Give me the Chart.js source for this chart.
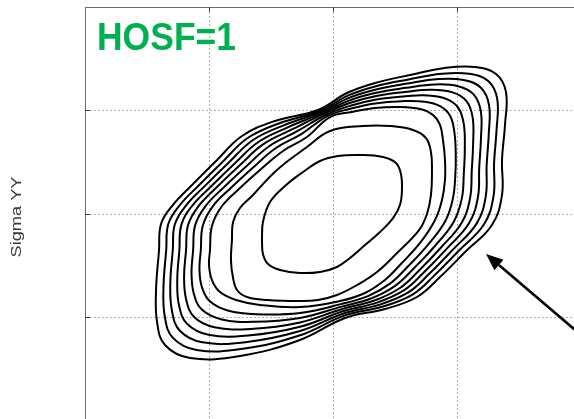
<!DOCTYPE html>
<html>
<head>
<meta charset="utf-8">
<script src="https://cdn.jsdelivr.net/npm/chart.js@4.4.1/dist/chart.umd.min.js"></script>
<style>
  html, body { margin: 0; padding: 0; overflow: hidden; background: #fff; width: 574px; height: 419px; }
  #wrap { position: relative; width: 581px; height: 421px; }
  canvas { display: block; }
</style>
</head>
<body>
<div id="wrap"><canvas id="plot" width="581" height="421"></canvas></div>
<script>
// Stress contour levels, innermost (level1) to outermost (level10), as [sigmaXX, sigmaYY] points
const level1 = [[1.427,1.749],[1.435,1.923],[1.492,2.116],[1.613,2.271],[1.758,2.406],[1.895,2.512],[2.040,2.560],[2.218,2.570],[2.403,2.551],[2.508,2.493],[2.548,2.386],[2.556,2.232],[2.540,2.087],[2.484,1.961],[2.379,1.826],[2.258,1.700],[2.137,1.575],[2.032,1.488],[1.895,1.440],[1.734,1.430],[1.573,1.459],[1.476,1.517],[1.435,1.614]];
const level2 = [[1.185,1.749],[1.194,1.923],[1.250,2.058],[1.347,2.174],[1.548,2.425],[1.790,2.647],[1.976,2.802],[2.242,2.850],[2.460,2.850],[2.645,2.812],[2.750,2.734],[2.790,2.599],[2.798,2.425],[2.790,2.184],[2.758,2.000],[2.694,1.845],[2.516,1.623],[2.355,1.440],[2.194,1.314],[2.032,1.217],[1.879,1.169],[1.734,1.159],[1.468,1.169],[1.306,1.198],[1.226,1.266],[1.194,1.382],[1.177,1.556]];
const level3 = [[1.008,1.652],[1.024,1.884],[1.105,2.077],[1.250,2.251],[1.411,2.425],[1.597,2.609],[1.790,2.744],[1.976,2.937],[2.153,2.986],[2.339,3.024],[2.540,3.034],[2.702,3.014],[2.806,2.957],[2.863,2.860],[2.887,2.715],[2.903,2.522],[2.903,2.329],[2.879,2.135],[2.823,1.942],[2.702,1.720],[2.540,1.507],[2.419,1.362],[2.258,1.237],[2.056,1.159],[1.734,1.101],[1.411,1.121],[1.218,1.169],[1.089,1.246],[1.024,1.362],[1.000,1.507]];
const level4 = [[0.934,1.652],[0.950,1.887],[1.032,2.077],[1.180,2.256],[1.349,2.442],[1.537,2.635],[1.744,2.772],[1.959,2.949],[2.146,3.019],[2.339,3.068],[2.555,3.090],[2.738,3.085],[2.867,3.040],[2.944,2.949],[2.978,2.799],[2.990,2.583],[2.986,2.364],[2.966,2.144],[2.906,1.933],[2.767,1.704],[2.598,1.486],[2.465,1.332],[2.287,1.209],[2.063,1.129],[1.734,1.044],[1.382,1.032],[1.151,1.068],[1.009,1.154],[0.944,1.289],[0.923,1.464]];
const level5 = [[0.872,1.652],[0.888,1.890],[0.972,2.077],[1.122,2.261],[1.297,2.457],[1.488,2.657],[1.705,2.795],[1.944,2.959],[2.140,3.046],[2.339,3.104],[2.567,3.136],[2.768,3.145],[2.918,3.110],[3.012,3.023],[3.055,2.868],[3.063,2.634],[3.055,2.393],[3.039,2.151],[2.974,1.926],[2.822,1.691],[2.647,1.469],[2.504,1.308],[2.311,1.186],[2.070,1.105],[1.734,0.996],[1.358,0.958],[1.096,0.984],[0.942,1.077],[0.878,1.228],[0.859,1.427]];
const level6 = [[0.815,1.652],[0.831,1.893],[0.916,2.077],[1.068,2.265],[1.248,2.471],[1.441,2.677],[1.669,2.817],[1.930,2.969],[2.134,3.072],[2.339,3.138],[2.578,3.179],[2.796,3.201],[2.965,3.175],[3.075,3.092],[3.126,2.933],[3.130,2.681],[3.119,2.420],[3.106,2.158],[3.039,1.919],[2.873,1.679],[2.692,1.452],[2.540,1.285],[2.334,1.164],[2.075,1.082],[1.734,0.952],[1.335,0.889],[1.044,0.906],[0.880,1.005],[0.816,1.172],[0.799,1.394]];
const level7 = [[0.761,1.652],[0.777,1.895],[0.863,2.077],[1.018,2.268],[1.203,2.483],[1.398,2.696],[1.635,2.837],[1.918,2.978],[2.129,3.096],[2.339,3.169],[2.589,3.219],[2.823,3.252],[3.009,3.235],[3.134,3.156],[3.192,2.993],[3.193,2.725],[3.179,2.445],[3.169,2.164],[3.098,1.913],[2.920,1.668],[2.734,1.437],[2.574,1.264],[2.355,1.144],[2.081,1.061],[1.734,0.910],[1.314,0.825],[0.995,0.833],[0.823,0.939],[0.758,1.119],[0.744,1.362]];
const level8 = [[0.708,1.652],[0.724,1.898],[0.811,2.077],[0.967,2.272],[1.158,2.496],[1.355,2.715],[1.602,2.857],[1.905,2.987],[2.124,3.120],[2.339,3.201],[2.599,3.260],[2.849,3.304],[3.053,3.295],[3.193,3.220],[3.258,3.054],[3.256,2.769],[3.239,2.470],[3.232,2.171],[3.158,1.907],[2.967,1.656],[2.776,1.422],[2.607,1.242],[2.376,1.124],[2.086,1.039],[1.734,0.869],[1.293,0.761],[0.947,0.760],[0.765,0.872],[0.701,1.066],[0.688,1.331]];
const level9 = [[0.655,1.652],[0.671,1.900],[0.758,2.077],[0.917,2.276],[1.113,2.508],[1.312,2.734],[1.568,2.877],[1.893,2.995],[2.119,3.143],[2.339,3.232],[2.610,3.300],[2.875,3.355],[3.098,3.355],[3.252,3.284],[3.324,3.114],[3.319,2.813],[3.299,2.495],[3.295,2.177],[3.218,1.901],[3.014,1.645],[2.818,1.407],[2.641,1.221],[2.396,1.104],[2.091,1.018],[1.734,0.828],[1.273,0.697],[0.899,0.687],[0.707,0.806],[0.643,1.014],[0.633,1.300]];
const level10 = [[0.597,1.652],[0.613,1.903],[0.702,2.077],[0.863,2.280],[1.065,2.522],[1.266,2.754],[1.532,2.899],[1.879,3.005],[2.113,3.169],[2.339,3.266],[2.621,3.343],[2.903,3.411],[3.145,3.420],[3.315,3.353],[3.395,3.179],[3.387,2.860],[3.363,2.522],[3.363,2.184],[3.282,1.894],[3.065,1.633],[2.863,1.391],[2.677,1.198],[2.419,1.082],[2.097,0.995],[1.734,0.783],[1.250,0.628],[0.847,0.609],[0.645,0.734],[0.581,0.957],[0.573,1.266]];

const levels = [level1, level2, level3, level4, level5, level6, level7, level8, level9, level10];

// Grid positions on both axes
const xGridTicks = [0, 1, 2, 3, 4];
const yGridTicks = [0, 1, 2, 3, 4];

// Annotation arrow (tail -> tip) in axis units
const arrowTail = [4.0, 0.831];
const arrowTip = [3.234, 1.614];

const panelLabel = 'HOSF=1';
const yAxisTitle = 'Sigma YY';

// Close every contour by repeating its first point
const datasets = levels.map(pts => ({
  data: pts.concat([pts[0]]).map(([x, y]) => ({ x, y })),
  showLine: true,
  fill: false,
  borderColor: '#000',
  borderWidth: 2,
  pointRadius: 0,
  pointHoverRadius: 0,
  tension: 0.4
}));

function alignPx(p, w) {
  return Math.round(p - w / 2) + w / 2;
}

const decorations = {
  id: 'decorations',
  afterDraw(chart) {
    const { ctx, chartArea, scales } = chart;
    const xs = scales.x, ys = scales.y;
    ctx.save();

    // Short inward tick marks on the top and left axes
    ctx.strokeStyle = '#3c3c3c';
    ctx.lineWidth = 1;
    xGridTicks.slice(1, -1).forEach(v => {
      const px = alignPx(xs.getPixelForValue(v), 1);
      ctx.beginPath();
      ctx.moveTo(px, chartArea.top);
      ctx.lineTo(px, chartArea.top + 5);
      ctx.stroke();
    });
    yGridTicks.slice(1, -1).forEach(v => {
      const py = alignPx(ys.getPixelForValue(v), 1);
      ctx.beginPath();
      ctx.moveTo(chartArea.left, py);
      ctx.lineTo(chartArea.left + 5, py);
      ctx.stroke();
    });

    // Arrow annotation
    const tx = xs.getPixelForValue(arrowTail[0]), ty = ys.getPixelForValue(arrowTail[1]);
    const hx = xs.getPixelForValue(arrowTip[0]), hy = ys.getPixelForValue(arrowTip[1]);
    const len = Math.hypot(tx - hx, ty - hy);
    const ux = (tx - hx) / len, uy = (ty - hy) / len;
    const headLen = 17, headHalf = 7;
    const bx = hx + ux * headLen, by = hy + uy * headLen;
    ctx.strokeStyle = '#000';
    ctx.lineWidth = 2.6;
    ctx.beginPath();
    ctx.moveTo(tx, ty);
    ctx.lineTo(bx, by);
    ctx.stroke();
    ctx.fillStyle = '#000';
    ctx.beginPath();
    ctx.moveTo(hx, hy);
    ctx.lineTo(bx - uy * headHalf, by + ux * headHalf);
    ctx.lineTo(bx + uy * headHalf, by - ux * headHalf);
    ctx.closePath();
    ctx.fill();
    ctx.restore();

    // Panel label
    ctx.save();
    ctx.font = 'bold 39px "Liberation Sans", Arial, sans-serif';
    ctx.fillStyle = '#00b050';
    ctx.textBaseline = 'alphabetic';
    ctx.textAlign = 'left';
    const lw = ctx.measureText(panelLabel).width;
    ctx.translate(chartArea.left + 12, chartArea.top + 43);
    ctx.scale(139 / lw, 1);
    ctx.fillText(panelLabel, 0, 0);
    ctx.restore();

    // Vertical axis title
    ctx.save();
    ctx.font = '14px "Liberation Sans", Arial, sans-serif';
    ctx.fillStyle = '#3a3a3a';
    ctx.textAlign = 'center';
    ctx.textBaseline = 'alphabetic';
    const tw = ctx.measureText(yAxisTitle).width;
    ctx.translate(21, (chartArea.top + chartArea.bottom) / 2 + 3);
    ctx.rotate(-Math.PI / 2);
    ctx.scale(81 / tw, 1);
    ctx.fillText(yAxisTitle, 0, 0);
    ctx.restore();
  }
};

const gridStyle = { color: '#b0b0b0', lineWidth: 1, drawTicks: false, tickLength: 0 };
const borderStyle = { display: true, color: '#6e6e6e', width: 1, dash: [2, 2] };

new Chart(document.getElementById('plot'), {
  type: 'scatter',
  data: { datasets },
  options: {
    responsive: false,
    animation: false,
    devicePixelRatio: 1,
    events: [],
    layout: { padding: { left: 85, top: 7, right: 0, bottom: 0 } },
    plugins: { legend: { display: false }, tooltip: { enabled: false } },
    scales: {
      x: {
        type: 'linear',
        position: 'top',
        min: 0,
        max: 4,
        afterBuildTicks(s) { s.ticks = xGridTicks.map(v => ({ value: v })); },
        afterFit(s) { s.height = 0; },
        ticks: { display: false },
        grid: gridStyle,
        border: borderStyle
      },
      y: {
        type: 'linear',
        position: 'left',
        min: 0,
        max: 4,
        afterBuildTicks(s) { s.ticks = yGridTicks.map(v => ({ value: v })); },
        afterFit(s) { s.width = 0; },
        ticks: { display: false },
        grid: gridStyle,
        border: borderStyle
      }
    }
  },
  plugins: [decorations]
});
</script>
</body>
</html>
